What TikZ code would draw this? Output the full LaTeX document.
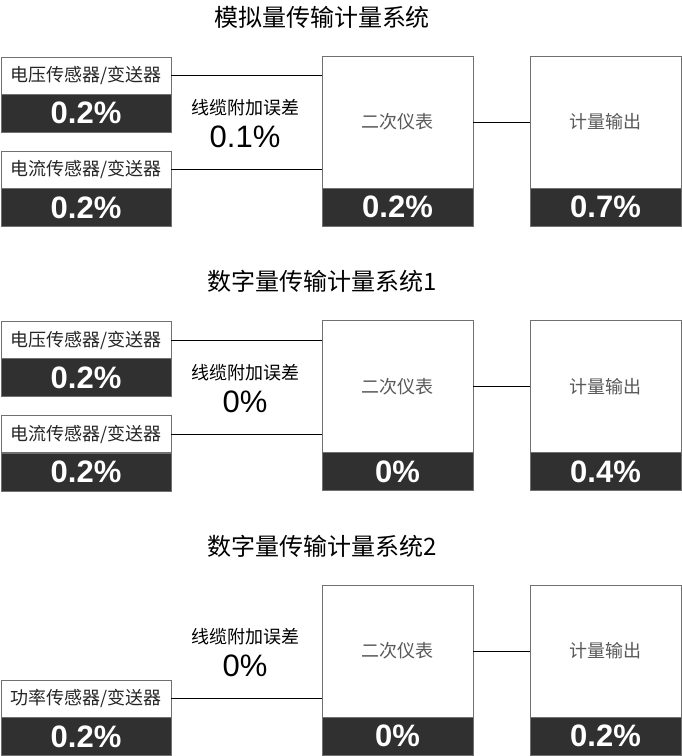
\documentclass[tikz,border=0pt]{standalone}
\usepackage{fontspec}
\setmainfont{Liberation Sans}
\newfontfamily\cjk{Noto Sans CJK SC}
\definecolor{darkbg}{HTML}{303030}
\definecolor{boxline}{HTML}{707070}
\begin{document}
\begin{tikzpicture}[x=1pt,y=-1pt,
    sensor/.style={draw=boxline, fill=white, minimum width=170pt, minimum height=37pt,
      inner sep=0pt, text=black!85, font=\cjk\fontsize{18}{18}\selectfont},
    big/.style={draw=boxline, fill=white, minimum width=151pt, minimum height=132pt,
      inner sep=0pt, text=black!65, font=\cjk\fontsize{18}{18}\selectfont},
    val/.style={draw=boxline, fill=darkbg, text=white, minimum height=38pt,
      inner sep=0pt, font=\fontsize{31}{31}\selectfont\bfseries},
    sval/.style={val, minimum width=170pt},
    bval/.style={val, minimum width=151pt},
    title/.style={font=\cjk\fontsize{24}{24}\selectfont},
    cable/.style={font=\cjk\fontsize{18}{18}\selectfont},
    loss/.style={font=\fontsize{31}{31}\selectfont}]
  \useasboundingbox (0,0) rectangle (682,756);

  % analog system
  \node[title] (t1) at (322,17) {模拟量传输计量系统};
  \node[sensor] (u1) at (86,75.5) {电压传感器/变送器};
  \node[sval] (u1v) at (86,113) {0.2\%};
  \node[sensor] (i1) at (86,169.5) {电流传感器/变送器};
  \node[sval] (i1v) at (86,207.5) {0.2\%};
  \node[big] (m1) at (397.5,122) {二次仪表};
  \node[bval] (m1v) at (397.5,207) {0.2\%};
  \node[big] (o1) at (605.5,122) {计量输出};
  \node[bval] (o1v) at (605.5,207) {0.7\%};
  \node[cable] (c1) at (245,108) {线缆附加误差};
  \node[loss] (c1v) at (245,137) {0.1\%};
  \draw (u1.east) -- (u1.east -| m1.west);
  \draw (i1.east) -- (i1.east -| m1.west);
  \draw (m1) -- (o1);

  % digital system 1
  \begin{scope}[shift={(0,264.5)}]
    \node[title] (t2) at (322,17) {数字量传输计量系统1};
    \node[sensor] (u2) at (86,75.5) {电压传感器/变送器};
    \node[sval] (u2v) at (86,113) {0.2\%};
    \node[sensor] (i2) at (86,169.5) {电流传感器/变送器};
    \node[sval] (i2v) at (86,207.5) {0.2\%};
    \node[big] (m2) at (397.5,122) {二次仪表};
    \node[bval] (m2v) at (397.5,207) {0\%};
    \node[big] (o2) at (605.5,122) {计量输出};
    \node[bval] (o2v) at (605.5,207) {0.4\%};
    \node[cable] (c2) at (245,108) {线缆附加误差};
    \node[loss] (c2v) at (245,137) {0\%};
    \draw (u2.east) -- (u2.east -| m2.west);
    \draw (i2.east) -- (i2.east -| m2.west);
    \draw (m2) -- (o2);
  \end{scope}

  % digital system 2
  \begin{scope}[shift={(0,529)}]
    \node[title] (t3) at (322,17) {数字量传输计量系统2};
    \node[sensor] (p3) at (86,169.5) {功率传感器/变送器};
    \node[sval] (p3v) at (86,207.5) {0.2\%};
    \node[big] (m3) at (397.5,122) {二次仪表};
    \node[bval] (m3v) at (397.5,207) {0\%};
    \node[big] (o3) at (605.5,122) {计量输出};
    \node[bval] (o3v) at (605.5,207) {0.2\%};
    \node[cable] (c3) at (245,108) {线缆附加误差};
    \node[loss] (c3v) at (245,137) {0\%};
    \draw (p3.east) -- (p3.east -| m3.west);
    \draw (m3) -- (o3);
  \end{scope}
\end{tikzpicture}
\end{document}
